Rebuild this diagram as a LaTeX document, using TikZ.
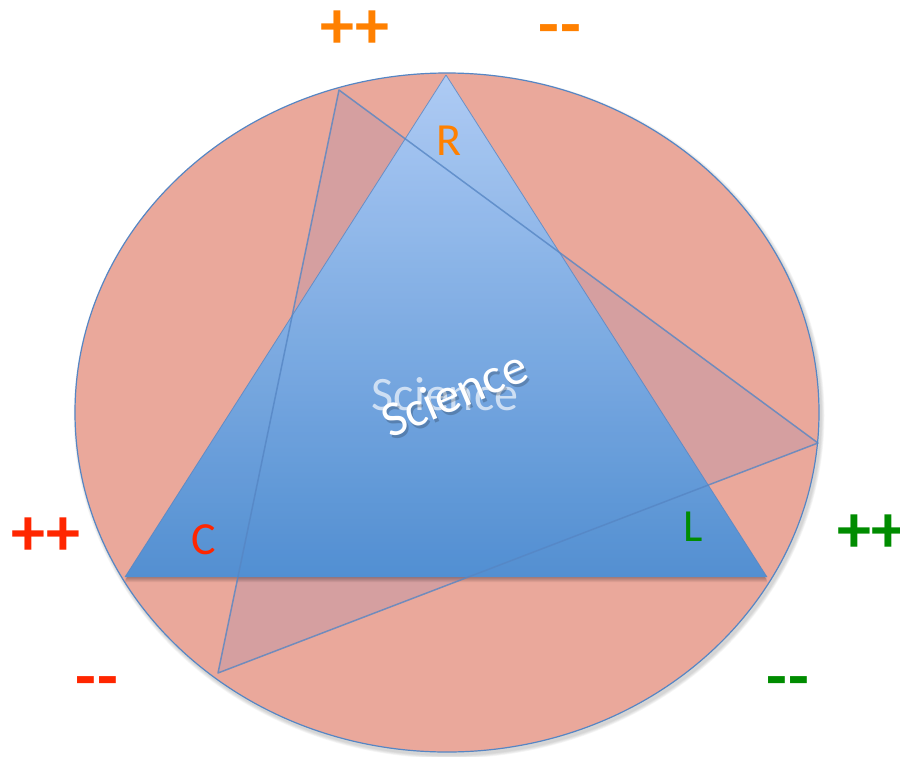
\documentclass[tikz,border=0pt]{standalone}
\usepackage{fontspec}
\setmainfont{Carlito}
\usetikzlibrary{shapes.geometric}
\definecolor{salmon}{RGB}{234,168,155}
\definecolor{edgeblue}{RGB}{86,134,196}
\definecolor{topblue}{RGB}{170,206,251}
\definecolor{botblue}{RGB}{72,142,214}
\definecolor{skewfill}{RGB}{176,145,171}
\definecolor{orng}{RGB}{255,128,0}
\definecolor{redc}{RGB}{255,38,0}
\definecolor{grn}{RGB}{0,140,0}
\newcommand{\dd}{-\kern1pt-}
\tikzset{
  bigsign/.style={font=\fontsize{68}{68}\bfseries\selectfont, inner sep=0pt, anchor=base},
  letter/.style={font=\fontsize{46}{46}\selectfont, inner sep=0pt},
  sci/.style={font=\fontsize{48}{48}\selectfont, inner sep=0pt, text=white},
}
\begin{document}
\begin{tikzpicture}[x=1pt,y=-1pt]
\useasboundingbox (0,0) rectangle (900,756);
% circle shadow
\foreach \i in {1,...,5}{
  \fill[black, opacity=0.035] (449,415.5) ellipse [x radius={372pt+\i*0.7pt}, y radius={339.5pt+\i*0.7pt}];
}
\node[draw=edgeblue, fill=salmon, line width=1.2pt, ellipse, minimum width=744pt, minimum height=679pt, inner sep=0pt] (circ) at (447,412.5) {};
% coordinates
\coordinate (bR) at (446,75);
\coordinate (bC) at (125,577);
\coordinate (bL) at (767,577);
\coordinate (sA) at (339,90);
\coordinate (sB) at (818,443);
\coordinate (sC) at (218,673);
% skew triangle fill
\fill[skewfill, opacity=0.35] (sA) -- (sB) -- (sC) -- cycle;
% base shadow
\foreach \i in {1,...,5}{
  \fill[black, opacity=0.06] ([yshift=-\i pt]bC) -- ([yshift=-\i pt]bL) -- ([xshift=-2pt]bL) -- ([xshift=2pt]bC) -- cycle;
}
% blue triangle
\shade[top color=topblue, bottom color=botblue, opacity=0.93] (bR) -- (bC) -- (bL) -- cycle;
\draw[edgeblue, line width=0.8pt, opacity=0.8] (bR) -- (bC);
\draw[edgeblue, line width=0.8pt, opacity=0.8] (bR) -- (bL);
% skew triangle outline
\draw[edgeblue, line width=1.5pt, opacity=0.8, line join=round] (sA) -- (sB) -- (sC) -- cycle;
% Science texts
\node[sci, opacity=0.65, anchor=base] (sci1) at (445,410) {Science};
\node[sci, font=\fontsize{50}{50}\selectfont, text=black, opacity=0.2, rotate=23] (sci2s) at (456,396) {Science};
\node[sci, font=\fontsize{50}{50}\selectfont, rotate=23] (sci2) at (454,393) {Science};
% letters
\node[letter, text=orng] (lR) at (449,141) {R};
\node[letter, text=redc] (lC) at (204,540) {C};
\node[letter, text=grn] (lL) at (693,527) {L};
% signs
\node[bigsign, text=orng] (oplus) at (355,48) {++};
\node[bigsign, text=orng] (ominus) at (560,47) {\dd};
\node[bigsign, text=redc] (rplus) at (46,555) {++};
\node[bigsign, text=redc] (rminus) at (97,699) {\dd};
\node[bigsign, text=grn, anchor=base west] (gplus) at (837,552) {++};
\node[bigsign, text=grn] (gminus) at (788,699) {\dd};
\end{tikzpicture}
\end{document}
